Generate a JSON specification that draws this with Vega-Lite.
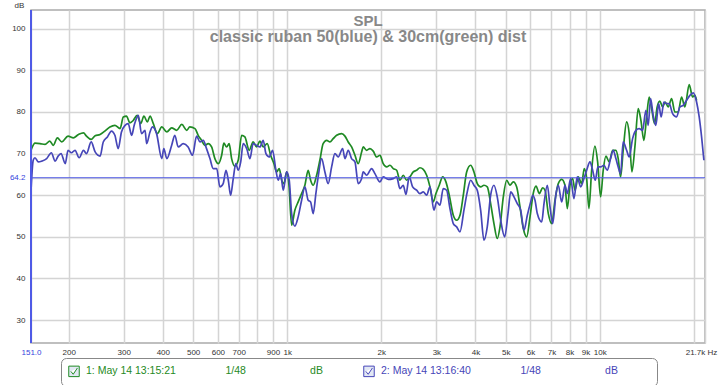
{
  "$schema": "https://vega.github.io/schema/vega-lite/v6.json",
  "width": 674,
  "height": 333,
  "autosize": {"type": "none"},
  "padding": {"left": 31, "top": 10, "right": 14, "bottom": 42},
  "background": "white",
  "config": {"view": {"stroke": "#ababab", "strokeWidth": 1.5}},
  "title": {
    "text": "SPL",
    "subtitle": "classic ruban 50(blue) & 30cm(green) dist",
    "anchor": "middle",
    "frame": "group",
    "offset": -44,
    "font": "Liberation Sans",
    "subtitleFont": "Liberation Sans",
    "fontSize": 15,
    "subtitleFontSize": 16,
    "fontWeight": "bold",
    "subtitleFontWeight": "bold",
    "color": "#888888",
    "subtitleColor": "#888888",
    "subtitlePadding": 0.5
  },
  "datasets": {
    "green": [
      [151.5,70.8],[156,72.5],[162,72.4],[168,72.2],[174,73.0],[178.5,72.0],[184,73.8],[190,72.8],[199,74.2],[207,73.8],[215,74.6],[223,75.0],[228,74.2],[236,73.4],[243,74.3],[252,74.6],[261,75.4],[271,76.4],[281,76.8],[292,76.0],[299,78.8],[306,79.0],[314,77.4],[322,78.0],[331,79.2],[340,77.2],[348,79.0],[357,77.6],[364,79.0],[373,77.2],[384,74.8],[397,76.4],[412,75.2],[427,76.2],[443,75.6],[460,77.0],[477,75.6],[488,76.4],[507,76.0],[519,74.4],[532,73.2],[545,72.0],[559,72.4],[573,71.6],[587,68.8],[602,67.6],[617,69.6],[627,72.5],[640,71.6],[652,72.4],[664,68.8],[680,67.0],[697,68.4],[715,74.4],[732,74.0],[756,70.8],[778,72.8],[798,71.6],[818,73.0],[838,71.6],[863,72.4],[885,69.6],[907,67.6],[925,65.6],[943,66.4],[960,63.6],[976,62.8],[996,65.6],[1013,62.4],[1033,52.8],[1058,56.4],[1084,58.4],[1112,60.4],[1139,62.4],[1167,66.0],[1188,63.6],[1211,62.4],[1242,64.8],[1272,68.4],[1303,72.4],[1337,73.2],[1370,72.8],[1403,73.6],[1439,74.4],[1493,74.8],[1530,74.2],[1567,72.8],[1607,71.6],[1647,69.6],[1687,67.6],[1730,70.4],[1750,71.6],[1795,70.8],[1839,71.2],[1884,70.6],[1932,69.2],[1980,69.6],[2028,67.6],[2080,66.8],[2131,67.2],[2184,66.4],[2239,66.0],[2294,63.6],[2351,64.8],[2410,63.6],[2470,64.4],[2530,65.6],[2594,66.0],[2658,66.6],[2724,66.2],[2793,64.8],[2862,62.0],[2932,58.4],[2991,60.4],[3065,62.4],[3142,64.4],[3219,63.2],[3299,60.0],[3398,55.2],[3484,54.0],[3570,55.2],[3658,60.0],[3750,65.6],[3862,67.2],[3957,65.6],[4055,62.8],[4157,62.0],[4260,62.4],[4365,62.0],[4475,58.0],[4585,53.2],[4698,49.6],[4794,52.4],[4912,59.6],[5036,63.6],[5160,62.4],[5287,63.2],[5421,62.0],[5555,57.2],[5692,52.0],[5836,50.0],[5980,54.8],[6127,60.5],[6250,62.2],[6404,60.4],[6566,61.8],[6678,61.2],[6843,55.6],[7016,53.2],[7189,58.8],[7365,62.8],[7552,63.8],[7737,62.4],[7869,56.8],[8026,62.4],[8187,64.0],[8327,61.2],[8532,64.4],[8748,62.8],[8917,66.4],[9076,64.0],[9230,56.8],[9416,66.0],[9647,71.8],[9840,68.0],[10060,59.6],[10254,66.0],[10459,69.4],[10716,68.0],[10987,70.8],[11258,70.8],[11450,68.8],[11653,64.4],[11879,70.8],[12181,77.6],[12416,74.8],[12665,65.6],[12948,71.6],[13267,80.8],[13533,78.0],[13836,73.2],[14113,78.8],[14386,83.6],[14675,80.4],[14969,77.2],[15259,81.2],[15565,82.6],[15878,81.2],[16185,82.4],[16547,81.2],[16966,83.2],[17383,80.0],[17810,80.0],[18262,83.6],[18712,81.2],[19316,86.6],[19804,83.6],[20142,84.0],[20396,82.8]
    ],
    "blue": [
      [151.5,61.0],[154,68.4],[156,69.0],[160,68.0],[164,68.2],[170,68.8],[176,70.2],[181,68.2],[185,69.4],[189,70.0],[195,67.6],[199,70.8],[204,70.2],[209.5,70.8],[216,69.0],[223,70.8],[228,70.0],[236,72.8],[243,70.4],[252,69.4],[258,72.8],[266,74.0],[274,75.4],[281,74.4],[288,71.2],[295,75.2],[303,76.8],[310,77.2],[318,74.4],[324,76.8],[334,79.2],[342,74.8],[351,75.6],[355,72.4],[364,75.2],[371,76.4],[382,74.8],[397,68.8],[403,71.2],[412,68.8],[427,72.0],[437,74.4],[448,71.6],[465,72.4],[482,71.6],[498,69.6],[513,74.2],[526,72.8],[539,73.2],[552,71.2],[566,68.8],[580,66.4],[595,66.4],[609,62.0],[624,62.8],[637,66.0],[648,63.6],[659,60.0],[672,64.0],[685,67.6],[697,66.0],[710,68.0],[723,72.4],[742,71.2],[760,68.8],[778,72.4],[798,72.0],[818,71.6],[838,73.2],[855,70.0],[876,69.2],[898,70.8],[920,66.0],[936,63.6],[953,65.2],[971,61.2],[996,65.6],[1015,63.6],[1033,55.6],[1058,52.6],[1084,54.8],[1112,58.8],[1139,62.0],[1167,58.8],[1188,58.4],[1211,55.6],[1235,60.4],[1256,64.4],[1288,68.8],[1320,65.6],[1352,62.8],[1387,66.8],[1421,70.0],[1456,69.2],[1504,71.2],[1530,68.8],[1567,70.8],[1607,68.8],[1647,68.0],[1687,62.8],[1730,64.0],[1750,65.6],[1795,64.8],[1862,66.4],[1908,65.2],[1980,63.2],[2028,64.4],[2105,63.8],[2184,64.0],[2239,64.4],[2294,61.6],[2351,62.4],[2398,60.2],[2457,64.4],[2519,62.0],[2594,61.2],[2658,60.4],[2724,60.8],[2793,60.0],[2862,62.0],[2947,56.4],[3006,58.4],[3080,57.6],[3156,61.6],[3236,61.2],[3316,56.8],[3398,53.2],[3484,52.4],[3570,51.2],[3676,56.4],[3767,60.8],[3862,63.6],[3957,62.4],[4055,61.2],[4157,56.4],[4260,49.2],[4365,52.4],[4475,60.0],[4585,62.4],[4698,59.6],[4818,54.0],[4963,50.0],[5085,55.6],[5187,60.8],[5314,59.6],[5445,58.0],[5583,56.4],[5721,51.6],[5862,55.2],[6011,58.4],[6100,60.0],[6204,58.8],[6310,55.6],[6518,53.6],[6629,58.0],[6793,62.4],[6929,57.2],[7068,53.2],[7242,60.4],[7365,62.4],[7552,58.4],[7737,62.4],[7869,60.4],[8068,64.0],[8266,59.2],[8469,64.4],[8684,62.0],[8897,64.0],[9076,66.0],[9299,68.0],[9485,66.0],[9669,63.6],[9862,66.8],[10060,66.8],[10306,67.2],[10560,66.0],[10827,68.8],[11036,70.8],[11258,68.8],[11450,66.8],[11653,65.2],[11879,72.8],[12181,70.8],[12416,69.2],[12730,73.6],[13044,75.6],[13365,76.0],[13704,75.6],[14041,80.4],[14280,76.8],[14535,83.2],[14816,79.2],[15113,76.8],[15417,82.0],[15715,78.8],[16031,82.4],[16353,82.0],[16669,82.0],[17092,79.6],[17602,78.8],[18035,81.2],[18479,81.6],[18948,82.8],[19415,84.0],[19892,84.6],[20396,82.4],[20792,78.8],[21162,74.0],[21524,68.4]
    ],
    "cursor": [{"freq": 151.5, "spl": 64.2}]
  },
  "layer": [
    {
      "data": {"name": "green"},
      "transform": [
        {"calculate": "datum[0]", "as": "freq"},
        {"calculate": "datum[1]", "as": "spl"},
        {"calculate": "'1: May 14 13:15:21'", "as": "series"}
      ],
      "mark": {"type": "line", "strokeWidth": 1.7, "clip": true, "interpolate": "monotone"},
      "encoding": {
        "x": {"field": "freq", "type": "quantitative"},
        "y": {"field": "spl", "type": "quantitative"},
        "color": {"field": "series", "type": "nominal"}
      }
    },
    {
      "data": {"name": "blue"},
      "transform": [
        {"calculate": "datum[0]", "as": "freq"},
        {"calculate": "datum[1]", "as": "spl"},
        {"calculate": "'2: May 14 13:16:40'", "as": "series"}
      ],
      "mark": {"type": "line", "strokeWidth": 1.7, "clip": true, "interpolate": "monotone"},
      "encoding": {
        "x": {"field": "freq", "type": "quantitative"},
        "y": {"field": "spl", "type": "quantitative"},
        "color": {"field": "series", "type": "nominal"}
      }
    },
    {
      "data": {"name": "cursor"},
      "mark": {"type": "rule", "color": "#4f5ae6", "strokeWidth": 1},
      "encoding": {"y": {"field": "spl", "type": "quantitative"}}
    },
    {
      "data": {"name": "cursor"},
      "mark": {"type": "rule", "color": "#4f5ae6", "strokeWidth": 2},
      "encoding": {"x": {"field": "freq", "type": "quantitative"}}
    }
  ],
  "encoding": {
    "x": {
      "type": "quantitative",
      "scale": {"type": "log", "domain": [151.5, 21700], "nice": false},
      "axis": {
        "title": null,
        "values": [151.5, 200, 300, 400, 500, 600, 700, 800, 900, 1000, 2000, 3000, 4000, 5000, 6000, 7000, 8000, 9000, 10000, 20000, 21700],
        "labelExpr": "datum.value < 160 ? '151.0' : (datum.value == 800 || datum.value == 20000) ? '' : datum.value > 21000 ? '21.7k Hz' : datum.value >= 1000 ? (datum.value / 1000) + 'k' : '' + datum.value",
        "labelColor": {"condition": {"test": "datum.value < 160", "value": "#3344dd"}, "value": "#333333"},
        "labelOffset": {"condition": {"test": "datum.value > 21000", "value": -4}, "value": 0},
        "labelOverlap": false,
        "labelFlush": false,
        "labelBound": false,
        "labelPadding": 5,
        "labelFontSize": 8,
        "labelFont": "Liberation Sans",
        "grid": true,
        "gridColor": "#d4d4d4",
        "gridWidth": 1.5,
        "domain": false,
        "ticks": false
      }
    },
    "y": {
      "type": "quantitative",
      "scale": {"domain": [24.5, 104.5], "nice": false, "zero": false},
      "axis": {
        "title": "dB",
        "titleAngle": 0,
        "titleX": -12,
        "titleY": -3,
        "titleAlign": "center",
        "titleBaseline": "alphabetic",
        "titleFontSize": 8,
        "titleFontWeight": "normal",
        "titleFont": "Liberation Sans",
        "titleColor": "#333333",
        "values": [30, 40, 50, 60, 64.2, 70, 80, 90, 100],
        "labelExpr": "datum.value == 64.2 ? '64.2' : '' + datum.value",
        "labelColor": {"condition": {"test": "datum.value == 64.2", "value": "#3344dd"}, "value": "#333333"},
        "labelPadding": 6,
        "labelFontSize": 8,
        "labelFont": "Liberation Sans",
        "grid": true,
        "gridColor": "#d4d4d4",
        "gridWidth": 1.5,
        "domain": false,
        "ticks": false
      }
    },
    "color": {
      "type": "nominal",
      "scale": {"domain": ["1: May 14 13:15:21", "2: May 14 13:16:40"], "range": ["#1f8a24", "#4646b8"]},
      "legend": {
        "title": null,
        "orient": "none",
        "legendX": 30,
        "legendY": 348,
        "direction": "horizontal",
        "columns": 2,
        "symbolType": "M-1,-1H1V1H-1Z M-0.6,0L-0.15,0.55L0.65,-0.65",
        "symbolSize": 110,
        "symbolStrokeWidth": 1,
        "labelOffset": 6,
        "labelFont": "Liberation Sans",
        "labelFontSize": 10.5,
        "labelLimit": 700,
        "labelExpr": "datum.label + '\u00a0\u00a0\u00a0\u00a0\u00a0\u00a0\u00a0\u00a0\u00a0\u00a0\u00a0\u00a0\u00a0\u00a0\u00a0\u00a0\u00a01/48\u00a0\u00a0\u00a0\u00a0\u00a0\u00a0\u00a0\u00a0\u00a0\u00a0\u00a0\u00a0\u00a0\u00a0\u00a0\u00a0\u00a0\u00a0\u00a0\u00a0\u00a0\u00a0dB' + (datum.value == '2: May 14 13:16:40' ? '\u00a0\u00a0\u00a0\u00a0\u00a0\u00a0\u00a0\u00a0\u2800' : '')",
        "columnPadding": 38,
        "padding": 7,
        "strokeColor": "#888888",
        "cornerRadius": 5,
        "fillColor": "white",
        "encode": {
          "symbols": {"update": {"stroke": {"value": "#6a6a80"}, "fill": {"value": "#e2e8f4"}, "strokeWidth": {"value": 1}}},
          "labels": {"update": {"fill": {"scale": "color", "field": "value"}}}
        }
      }
    }
  }
}
